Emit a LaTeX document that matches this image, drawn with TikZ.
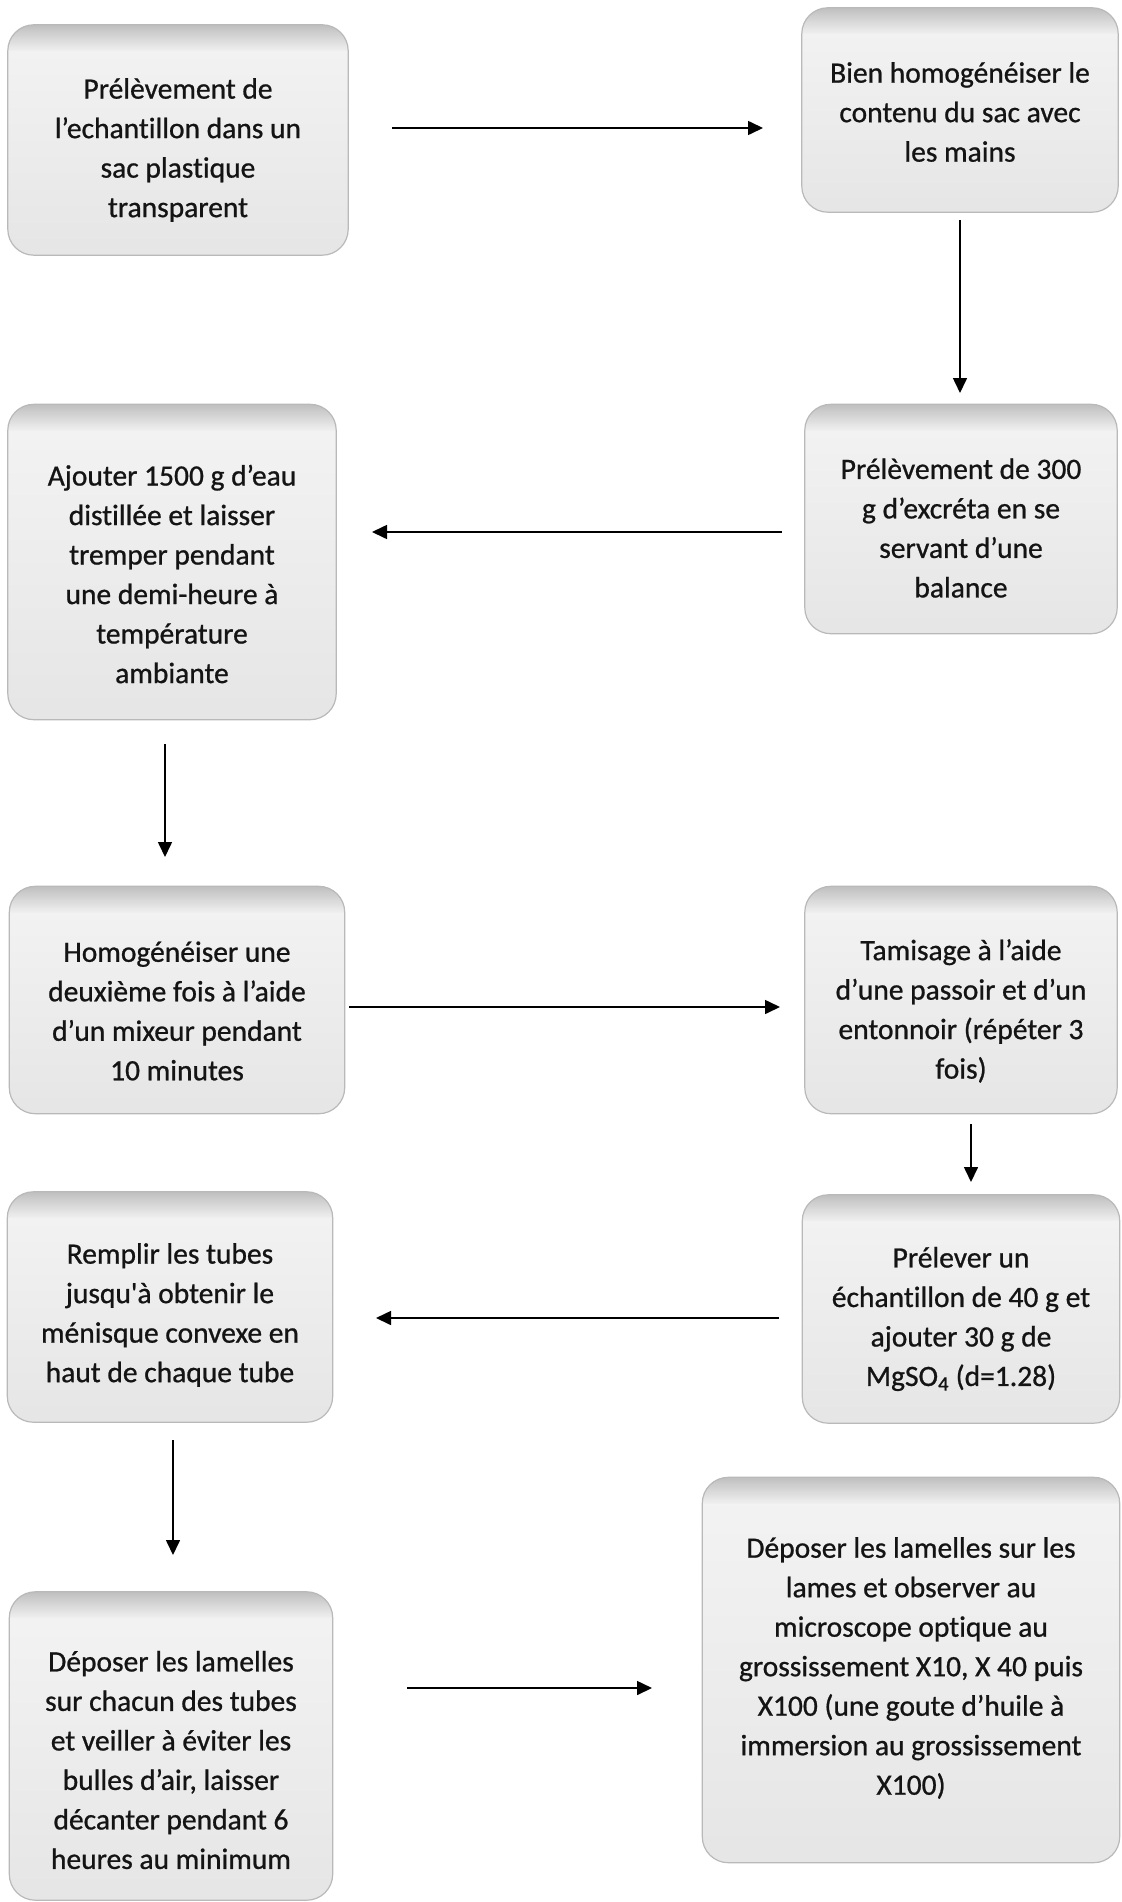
\documentclass[tikz,border=0pt]{standalone}
\usepackage{fontspec}
\setmainfont{Carlito}
\newfontfamily\boxfont{Carlito}[FakeBold=0.8,Ligatures={NoCommon}]
\usetikzlibrary{arrows.meta}
\tikzset{
  boxshape/.style={rounded corners=26pt, top color=gray!9, bottom color=gray!20, inner sep=0pt},
  boxedge/.style={rounded corners=26pt, draw=gray!55, line width=1.2pt},
  txt/.style={align=center, inner sep=0pt, font=\boxfont\fontsize{29.5}{39.5}\selectfont, text=black!92},
  flow/.style={line width=1.6pt, -{Triangle[length=15pt,width=14pt]}},
}
\newcommand{\stepbox}[7]{%
  \node[boxshape, minimum width=#4pt, minimum height=#5pt] (#1) at (#2,#3) {};
  \begin{scope}
    \clip[rounded corners=26pt] (#1.north west) rectangle (#1.south east);
    \shade[top color=gray!50, bottom color=gray!12] (#1.north west) rectangle ([yshift=-26pt]#1.north east);
  \end{scope}
  \path[boxedge] (#1.north west) rectangle (#1.south east);
  \node[txt] (#1t) at ([yshift=-#6pt]#1.center) {#7};
}
\begin{document}
\begin{tikzpicture}[x=1pt,y=-1pt]
\useasboundingbox[fill=white] (0,0) rectangle (1121,1902);

\stepbox{b1}{178}{140}{340}{230}{10}{Prélèvement de\\l’echantillon dans un\\sac plastique\\transparent}
\stepbox{b2}{960}{110}{316}{204}{2}{Bien homogénéiser le\\contenu du sac avec\\les mains}
\stepbox{b3}{961}{519}{312}{229}{9}{Prélèvement de 300\\g d’excréta en se\\servant d’une\\balance}
\stepbox{b4}{172}{562}{328}{315}{12}{Ajouter 1500 g d’eau\\distillée et laisser\\tremper pendant\\une demi-heure à\\température\\ambiante}
\stepbox{b5}{177}{1000}{335}{227}{11}{Homogénéiser une\\deuxième fois à l’aide\\d’un mixeur pendant\\10 minutes}
\stepbox{b6}{961}{1000}{312}{227}{11}{Tamisage à l’aide\\d’une passoir et d’un\\entonnoir (répéter 3\\fois)}
\stepbox{b7}{170}{1307}{325}{230}{8}{Remplir les tubes\\jusqu\textquotesingle à obtenir le\\ménisque convexe en\\haut de chaque tube}
\stepbox{b8}{961}{1309}{317}{228}{10}{Prélever un\\échantillon de 40 g et\\ajouter 30 g de\\MgSO\textsubscript{4} (d=1.28)}
\stepbox{b9}{171}{1746}{323}{308}{14}{Déposer les lamelles\\sur chacun des tubes\\et veiller à éviter les\\bulles d’air, laisser\\décanter pendant 6\\heures au minimum}
\stepbox{b10}{911}{1670}{417}{385}{-2}{Déposer les lamelles sur les\\lames et observer au\\microscope optique au\\grossissement X10, X 40 puis\\X100 (une goute d’huile à\\immersion au grossissement\\X100)}

\coordinate (a1s) at (392,128);  \coordinate (a1e) at (763,128);
\coordinate (a2s) at (960,220);  \coordinate (a2e) at (960,393);
\coordinate (a3s) at (782,532);  \coordinate (a3e) at (372,532);
\coordinate (a4s) at (165,744);  \coordinate (a4e) at (165,857);
\coordinate (a5s) at (349,1007); \coordinate (a5e) at (780,1007);
\coordinate (a6s) at (971,1124); \coordinate (a6e) at (971,1182);
\coordinate (a7s) at (779,1318); \coordinate (a7e) at (376,1318);
\coordinate (a8s) at (173,1440); \coordinate (a8e) at (173,1555);
\coordinate (a9s) at (407,1688); \coordinate (a9e) at (652,1688);

\foreach \i in {1,...,9} { \draw[flow] (a\i s) -- (a\i e); }
\end{tikzpicture}
\end{document}
